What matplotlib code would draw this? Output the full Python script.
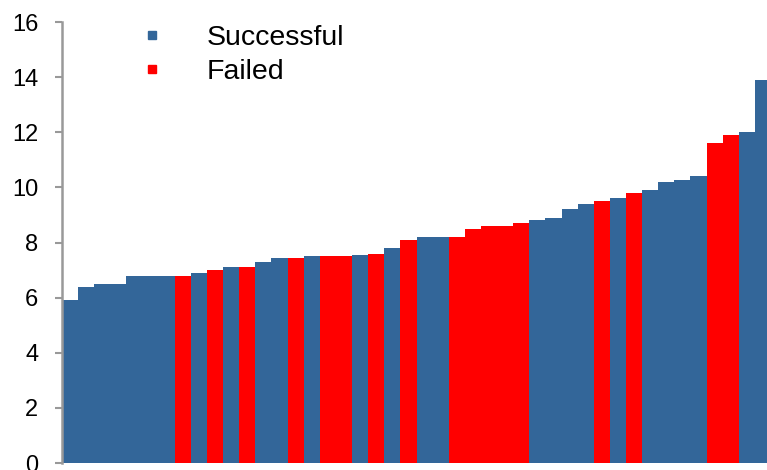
import matplotlib
matplotlib.use("Agg")
import matplotlib.pyplot as plt
from matplotlib.lines import Line2D

plt.rcParams['font.family'] = ['Liberation Sans', 'DejaVu Sans']

# Sorted values, one bar per case, with its outcome
values = [5.9, 6.4, 6.5, 6.5, 6.8, 6.8, 6.8, 6.8, 6.9, 7.0,
          7.1, 7.1, 7.3, 7.45, 7.45, 7.5, 7.5, 7.5, 7.55, 7.6,
          7.8, 8.1, 8.2, 8.2, 8.2, 8.5, 8.6, 8.6, 8.7, 8.8,
          8.9, 9.2, 9.4, 9.5, 9.6, 9.8, 9.9, 10.2, 10.25, 10.4,
          11.6, 11.9, 12.0, 13.9]
outcomes = ['S', 'S', 'S', 'S', 'S', 'S', 'S', 'F', 'S', 'F',
            'S', 'F', 'S', 'S', 'F', 'S', 'F', 'F', 'S', 'F',
            'S', 'F', 'S', 'S', 'F', 'F', 'F', 'F', 'F', 'S',
            'S', 'S', 'S', 'F', 'S', 'F', 'S', 'S', 'S', 'S',
            'F', 'F', 'S', 'S']
series_labels = {'S': 'Successful', 'F': 'Failed'}
y_ticks = [0, 2, 4, 6, 8, 10, 12, 14, 16]

palette = {'S': '#336699', 'F': '#FF0000'}

fig = plt.figure(figsize=(7.67, 4.70), dpi=100)
ax = fig.add_axes([62 / 767, 7 / 470, 709 / 767, 441 / 470])

x = list(range(len(values)))
ax.bar(x, values, width=1.0, color=[palette[o] for o in outcomes],
       linewidth=0, antialiased=False)

ax.set_xlim(-0.5, len(values) - 0.5)
ax.set_ylim(0, 16)
ax.set_yticks(y_ticks)
ax.set_xticks([])

for side in ('top', 'right', 'bottom'):
    ax.spines[side].set_visible(False)
ax.spines['left'].set_color('#999999')
ax.spines['left'].set_linewidth(1.8)
ax.tick_params(axis='y', direction='out', length=5, width=1.5,
               color='#999999', labelsize=17, pad=12, labelcolor='black')

handles = [Line2D([], [], marker='s', linestyle='none', markersize=6,
                  color=palette[k], label=series_labels[k]) for k in ('S', 'F')]
ax.legend(handles=handles, loc='upper left', bbox_to_anchor=(0.099, 1.02),
          frameon=False, fontsize=20.5, handlelength=0.6, handletextpad=1.6,
          labelspacing=0.3, borderaxespad=0)

fig.savefig('out.png', dpi=100)
